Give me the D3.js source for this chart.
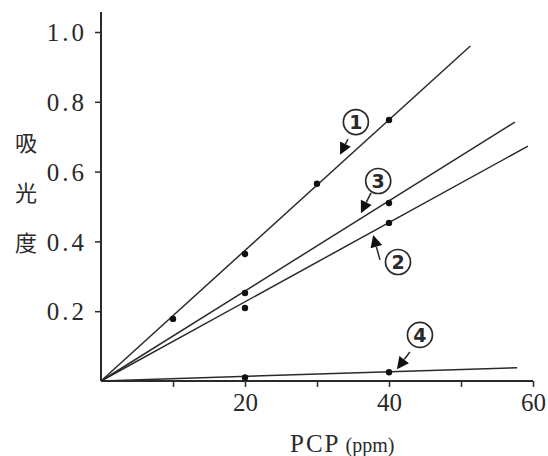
<!DOCTYPE html>
<html>
<head>
<meta charset="utf-8">
<script src="https://cdn.jsdelivr.net/npm/d3@7"></script>
<style>
  body { margin: 0; background: #fff; }
  svg { display: block; }
</style>
</head>
<body>
<div id="wrapper"></div>
<script>
// measured points (PCP ppm, absorbance)
const series1 = [[10, 0.178], [20, 0.364], [30, 0.565], [40, 0.748]];
const series2 = [[20, 0.209], [40, 0.453]];
const series3 = [[20, 0.252], [40, 0.510]];
const series4 = [[20, 0.010], [40, 0.025]];

// calibration lines (start, end)
const fit1 = [[0, 0], [51.3, 0.96]];
const fit2 = [[0, 0], [59.3, 0.673]];
const fit3 = [[0, 0], [57.5, 0.742]];
const fit4 = [[0, 0], [57.8, 0.038]];

const xTicks = [10, 20, 30, 40, 50, 60];
const xTickLabels = ["", "20", "", "40", "", "60"];
const yTicks = [0.2, 0.4, 0.6, 0.8, 1.0];
const yTickLabels = ["0.2", "0.4", "0.6", "0.8", "1.0"];

// circled labels: [text, centre, arrow tail, arrow tip] in data units
const labels = [
    ["1", [35.4, 0.742], [34.3, 0.693], [33.2, 0.648]],
    ["3", [38.5, 0.573], [37.5, 0.539], [36.1, 0.481]],
    ["2", [41.25, 0.341], [38.75, 0.347], [37.8, 0.418]],
    ["4", [44.3, 0.132], [42.9, 0.083], [41.1, 0.034]]
];

const yTitle = ["吸", "光", "度"];

function draw() {
    const width = 548, height = 456;
    const ink = "#2a2a2a";

    const svg = d3.select("#wrapper").append("svg")
        .attr("width", width)
        .attr("height", height);

    const x = d3.scaleLinear().domain([0, 60]).range([101, 533]);
    const y = d3.scaleLinear().domain([0, 1]).range([381, 32]);

    // axes
    const xAxis = svg.append("g")
        .attr("transform", `translate(0,${y(0)})`)
        .call(d3.axisBottom(x).tickValues(xTicks)
            .tickSize(6).tickPadding(6)
            .tickFormat((d, i) => xTickLabels[i]));
    xAxis.select(".domain").attr("d", `M${x(0)},0H${x(60)}`)
        .attr("stroke", ink).attr("stroke-width", 2);
    xAxis.selectAll(".tick line").attr("stroke", ink).attr("stroke-width", 1.5);
    xAxis.selectAll(".tick text")
        .attr("fill", ink)
        .style("font-family", "'Liberation Serif', 'DejaVu Serif', serif")
        .style("font-size", "25px")
        .attr("dy", "0.72em");

    const yAxis = svg.append("g")
        .attr("transform", `translate(${x(0)},0)`)
        .call(d3.axisLeft(y).tickValues(yTicks)
            .tickSize(6).tickPadding(8)
            .tickFormat((d, i) => yTickLabels[i]));
    yAxis.select(".domain").attr("d", `M0,${y(0)}V${y(1.057)}`)
        .attr("stroke", ink).attr("stroke-width", 2);
    yAxis.selectAll(".tick line").attr("stroke", ink).attr("stroke-width", 1.5);
    yAxis.selectAll(".tick text")
        .attr("fill", ink)
        .style("font-family", "'Liberation Serif', 'DejaVu Serif', serif")
        .style("font-size", "25px")
        .style("letter-spacing", "3px")
        .attr("dy", "0.35em");

    // fitted lines
    const line = d3.line().x(d => x(d[0])).y(d => y(d[1]));
    [fit1, fit2, fit3, fit4].forEach(f => {
        svg.append("path")
            .attr("d", line(f))
            .attr("fill", "none")
            .attr("stroke", ink)
            .attr("stroke-width", 1.5);
    });

    // points
    [series1, series2, series3, series4].forEach(s => {
        svg.append("g").selectAll("circle")
            .data(s)
            .join("circle")
            .attr("cx", d => x(d[0]))
            .attr("cy", d => y(d[1]))
            .attr("r", 3.2)
            .attr("fill", "#111");
    });

    // circled numbers with arrows
    const ann = svg.append("g").selectAll("g")
        .data(labels)
        .join("g");

    ann.append("circle")
        .attr("cx", d => x(d[1][0]))
        .attr("cy", d => y(d[1][1]))
        .attr("r", 12.5)
        .attr("fill", "none")
        .attr("stroke", ink)
        .attr("stroke-width", 1.7);

    ann.append("text")
        .attr("x", d => x(d[1][0]))
        .attr("y", d => y(d[1][1]))
        .attr("text-anchor", "middle")
        .attr("dy", "0.36em")
        .attr("fill", ink)
        .style("font-family", "'DejaVu Sans', sans-serif")
        .style("font-size", "19px")
        .style("font-weight", "bold")
        .text(d => d[0]);

    ann.each(function (d) {
        const g = d3.select(this);
        const x0 = x(d[2][0]), y0 = y(d[2][1]);
        const x1 = x(d[3][0]), y1 = y(d[3][1]);
        const a = Math.atan2(y1 - y0, x1 - x0);
        const len = 12, w = 6;
        const bx = x1 - len * Math.cos(a), by = y1 - len * Math.sin(a);
        g.append("line")
            .attr("x1", x0).attr("y1", y0)
            .attr("x2", bx).attr("y2", by)
            .attr("stroke", ink)
            .attr("stroke-width", 1.5);
        g.append("path")
            .attr("d", `M${x1},${y1}` +
                `L${bx + w * Math.sin(a)},${by - w * Math.cos(a)}` +
                `L${bx - w * Math.sin(a)},${by + w * Math.cos(a)}Z`)
            .attr("fill", "#111");
    });

    // axis titles
    svg.append("g").selectAll("text")
        .data(yTitle)
        .join("text")
        .attr("x", 26)
        .attr("y", (d, i) => 143 + i * 50)
        .attr("text-anchor", "middle")
        .attr("dy", "0.35em")
        .attr("fill", ink)
        .style("font-family", "'Noto Sans CJK JP', sans-serif")
        .style("font-size", "22px")
        .text(d => d);

    const xt = svg.append("text")
        .attr("x", 290)
        .attr("y", 452)
        .attr("fill", ink)
        .style("font-family", "'Liberation Serif', 'DejaVu Serif', serif");
    xt.append("tspan").style("font-size", "25px").style("letter-spacing", "2px").text("PCP");
    xt.append("tspan").style("font-size", "20px").text(" (ppm)");
}

draw();
</script>
</body>
</html>
